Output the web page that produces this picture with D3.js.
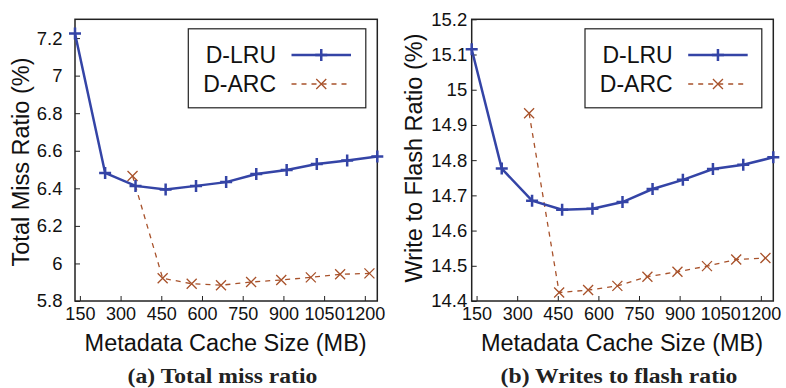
<!DOCTYPE html>
<html><head><meta charset="utf-8">
<script src="https://cdn.jsdelivr.net/npm/d3@7"></script>
<style>body{margin:0;background:#fff} svg{display:block}</style>
</head><body>
<svg id="c" width="786" height="388"></svg>
<script>
// ---- data ----
const xTicks = [150, 300, 450, 600, 750, 900, 1050, 1200];
const lruSizes = [132, 243, 355, 466, 578, 689, 800, 912, 1023, 1135, 1246];
const arcSizes = [344, 455, 562, 670, 781, 892, 1001, 1109, 1217];
const missLRU = [7.224, 6.482, 6.413, 6.394, 6.413, 6.433, 6.476, 6.498, 6.530, 6.548, 6.570];
const missARC = [6.466, 5.921, 5.892, 5.884, 5.901, 5.912, 5.926, 5.942, 5.947];
const writeLRU = [15.115, 14.776, 14.685, 14.659, 14.662, 14.681, 14.718, 14.744, 14.775, 14.787, 14.808];
const writeARC = [14.933, 14.424, 14.431, 14.443, 14.469, 14.483, 14.499, 14.518, 14.522];
const missTicks = [5.8, 6, 6.2, 6.4, 6.6, 6.8, 7, 7.2];
const writeTicks = [14.4, 14.5, 14.6, 14.7, 14.8, 14.9, 15, 15.1, 15.2];
const seriesNames = ["D-LRU", "D-ARC"];
const xLabel = "Metadata Cache Size (MB)";

const BLUE = "#3444a6", BROWN = "#a8522b";
const svg = d3.select("#c");

const panels = [
  {x0: 75, x1: 377.3, yDom: [5.8, 7.3], yTicks: missTicks, lru: missLRU, arc: missARC,
   yLabel: "Total Miss Ratio (%)", yLabX: 21, yLabY: 162, tickPad: 12.5,
   caption: "(a) Total miss ratio", capX: 222.5},
  {x0: 471.7, x1: 773.3, yDom: [14.4, 15.2], yTicks: writeTicks, lru: writeLRU, arc: writeARC,
   yLabel: "Write to Flash Ratio (%)", yLabX: 414, yLabY: 158, tickPad: 4.5,
   caption: "(b) Writes to flash ratio", capX: 619}
];
const plotTop = 19.3, plotBottom = 301;

panels.forEach(p => {
  const x = d3.scaleLinear().domain([132, 1246]).range([p.x0, p.x1]);
  const y = d3.scaleLinear().domain(p.yDom).range([plotBottom, plotTop]);
  const g = svg.append("g");

  // y axis
  const ya = g.append("g").attr("transform", `translate(${p.x0},0)`)
    .call(d3.axisLeft(y).tickValues(p.yTicks).tickFormat(d => String(d))
      .tickSizeInner(-5).tickSizeOuter(0).tickPadding(p.tickPad));
  ya.select(".domain").remove();
  ya.selectAll("line").attr("stroke", "#222").attr("stroke-width", 1);
  ya.selectAll("text").attr("font-family", "Liberation Sans, Arial, sans-serif")
    .attr("font-size", 18.5).attr("fill", "#111");

  // x axis
  const xa = g.append("g").attr("transform", `translate(0,${plotBottom})`)
    .call(d3.axisBottom(x).tickValues(xTicks).tickFormat(d => String(d))
      .tickSizeInner(-5).tickSizeOuter(0));
  xa.select(".domain").remove();
  xa.selectAll("line").attr("stroke", "#222").attr("stroke-width", 1);
  xa.selectAll("text").attr("font-family", "Liberation Sans, Arial, sans-serif")
    .attr("font-size", 18).attr("fill", "#111").attr("y", 18.5).attr("dy", "0");

  // frame
  g.append("rect").attr("x", p.x0).attr("y", plotTop)
    .attr("width", p.x1 - p.x0).attr("height", plotBottom - plotTop)
    .attr("fill", "none").attr("stroke", "#222").attr("stroke-width", 1.5);

  const line = d3.line().x(d => x(d[0])).y(d => y(d[1]));
  const lruPts = lruSizes.map((s, i) => [s, p.lru[i]]);
  const arcPts = arcSizes.map((s, i) => [s, p.arc[i]]);

  // D-ARC
  g.append("path").attr("d", line(arcPts)).attr("fill", "none")
    .attr("stroke", BROWN).attr("stroke-width", 1.3).attr("stroke-dasharray", "5,5");
  g.selectAll(".arcm").data(arcPts).enter().append("path")
    .attr("transform", d => `translate(${x(d[0])},${y(d[1])})`)
    .attr("d", "M-5,-5L5,5M5,-5L-5,5").attr("stroke", BROWN).attr("stroke-width", 1.3);

  // D-LRU
  g.append("path").attr("d", line(lruPts)).attr("fill", "none")
    .attr("stroke", BLUE).attr("stroke-width", 2.5);
  g.selectAll(".lrum").data(lruPts).enter().append("path")
    .attr("transform", d => `translate(${x(d[0])},${y(d[1])})`)
    .attr("d", "M-6,0H6M0,-6V6").attr("stroke", BLUE).attr("stroke-width", 2.5);

  // legend
  const lx1 = p.x1 - 11.5, lx0 = p.x0 + 113.3;
  g.append("rect").attr("x", lx0).attr("y", plotTop + 9.5).attr("width", lx1 - lx0).attr("height", 79)
    .attr("fill", "#fff").attr("stroke", "#222").attr("stroke-width", 1.2);
  const textEnd = p.x0 + 201, ls0 = p.x0 + 216.5, ls1 = p.x0 + 276;
  const rows = [55, 84];
  seriesNames.forEach((name, i) => {
    g.append("text").attr("x", textEnd).attr("y", rows[i]).attr("dy", "0.35em")
      .attr("text-anchor", "end").attr("font-family", "Liberation Sans, Arial, sans-serif")
      .attr("font-size", 23).attr("fill", "#111").text(name);
    const c = i === 0 ? BLUE : BROWN;
    g.append("line").attr("x1", ls0).attr("x2", ls1).attr("y1", rows[i]).attr("y2", rows[i])
      .attr("stroke", c).attr("stroke-width", i === 0 ? 2.5 : 1.3)
      .attr("stroke-dasharray", i === 0 ? null : "5,5");
    const mx = (ls0 + ls1) / 2;
    g.append("path").attr("transform", `translate(${mx},${rows[i]})`)
      .attr("d", i === 0 ? "M-6,0H6M0,-6V6" : "M-5,-5L5,5M5,-5L-5,5")
      .attr("stroke", c).attr("stroke-width", i === 0 ? 2.5 : 1.3);
  });

  // axis labels
  g.append("text").attr("transform", `translate(${p.yLabX},${p.yLabY}) rotate(-90)`)
    .attr("text-anchor", "middle").attr("dy", "0.35em")
    .attr("font-family", "Liberation Sans, Arial, sans-serif").attr("font-size", 23.5)
    .attr("fill", "#111").text(p.yLabel);
  g.append("text").attr("x", (p.x0 + p.x1) / 2 - 0.5).attr("y", 343).attr("dy", "0.35em")
    .attr("text-anchor", "middle").attr("font-family", "Liberation Sans, Arial, sans-serif")
    .attr("font-size", 23.5).attr("fill", "#111").text(xLabel);
  g.append("text").attr("transform", `translate(${p.capX},383) scale(1.075,0.92)`)
    .attr("text-anchor", "middle").attr("font-family", "Liberation Serif, Times New Roman, serif")
    .attr("font-weight", "bold").attr("font-size", 22).attr("fill", "#222").text(p.caption);
});
</script>
</body></html>
